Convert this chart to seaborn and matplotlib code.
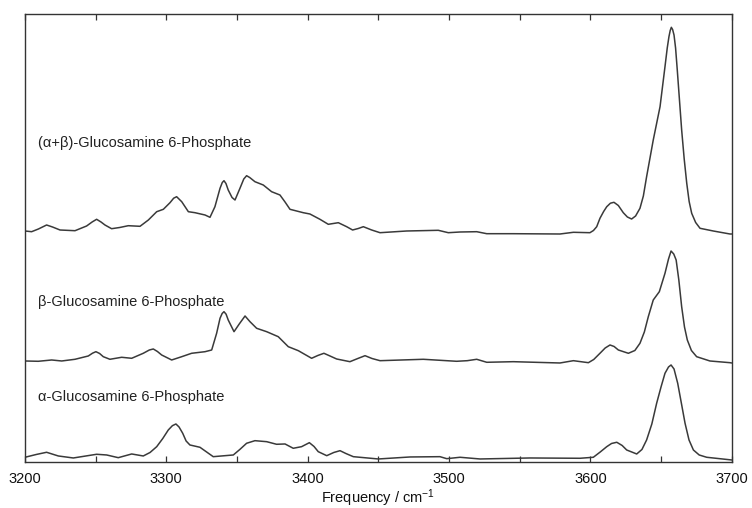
import numpy as np
import pandas as pd
import matplotlib
matplotlib.use("Agg")
import matplotlib.pyplot as plt
from matplotlib.ticker import MultipleLocator
import seaborn as sns

# ---------------- data ----------------
labels = ["(α+β)-Glucosamine 6-Phosphate",
          "β-Glucosamine 6-Phosphate",
          "α-Glucosamine 6-Phosphate"]

# (α+β) trace: frequency (cm-1) and displayed intensity (arb. units, stacked)
ab_freq = [3200, 3204.7, 3209.5, 3215.3, 3219.5, 3224.8, 3235.4, 3243.6, 3247.5,
           3250.7, 3253.8, 3256.6, 3261.3, 3267.0, 3273.1, 3281.4, 3287.3, 3293.2,
           3297.9, 3302.6, 3305.2, 3307.3, 3310.9, 3315.6, 3320.3, 3327.4, 3330.9,
           3334.4, 3338.0, 3339.6, 3340.8, 3342.2, 3343.8, 3346.5, 3348.6, 3352.1,
           3354.8, 3356.8, 3359.0, 3362.7, 3368.6, 3374.5, 3380.4, 3384.0, 3387.5,
           3396.9, 3401.6, 3408.7, 3414.6, 3421.7, 3427.6, 3431.8, 3435.8, 3439.4,
           3445.3, 3451.2, 3470.0, 3492.4, 3499.5, 3507.8, 3519.6, 3526.7, 3545.5,
           3578.5, 3588.0, 3599.7, 3602.2, 3604.5, 3606.8, 3609.4, 3611.6, 3614.2,
           3616.7, 3619.8, 3623.3, 3626.2, 3629.2, 3632.0, 3635.1, 3637.5, 3639.8,
           3644.5, 3649.3, 3652.8, 3654.4, 3655.6, 3656.5, 3657.3, 3658.2, 3659.2,
           3660.3, 3661.5, 3664.6, 3666.4, 3668.2, 3669.9, 3671.7, 3674.5, 3677.6,
           3687.0, 3698.8, 3700]
ab_int = [231.0, 230.3, 233.0, 237.0, 235.0, 232.0, 231.3, 236.0, 240.0,
          242.7, 240.0, 237.0, 233.3, 234.5, 236.3, 235.7, 242.0, 250.3,
          252.7, 259.3, 263.8, 265.3, 260.3, 250.3, 249.3, 247.0, 244.7,
          255.3, 273.7, 279.5, 281.3, 278.5, 272.0, 264.5, 262.0, 273.7,
          283.0, 286.3, 284.5, 280.3, 277.0, 270.3, 267.0, 260.0, 252.7,
          249.3, 248.0, 242.7, 237.7, 239.3, 235.3, 232.0, 233.5, 235.3,
          232.0, 229.3, 231.0, 231.7, 229.3, 230.0, 230.3, 228.3, 228.3,
          228.0, 229.7, 229.3, 231.5, 235.3, 243.7, 250.5, 255.3, 258.8,
          259.7, 256.5, 249.3, 245.0, 243.0, 246.0, 253.7, 266.0, 285.3,
          322.0, 355.3, 395.3, 414.0, 425.3, 431.5, 434.7, 432.5, 427.0,
          414.0, 392.0, 332.0, 303.0, 278.7, 260.5, 248.7, 239.5, 233.7,
          231.0, 228.0, 228.0]

# β trace
b_freq = [3200, 3209.4, 3218.9, 3226.0, 3235.4, 3244.8, 3247.8, 3250.2, 3252.8,
          3255.4, 3260.1, 3268.4, 3275.5, 3283.7, 3288.0, 3290.8, 3293.7, 3296.7,
          3303.8, 3310.9, 3317.9, 3327.4, 3332.1, 3335.6, 3338.0, 3339.5, 3340.8,
          3342.3, 3343.8, 3347.9, 3351.6, 3355.7, 3359.2, 3363.9, 3371.0, 3379.2,
          3386.3, 3393.4, 3402.8, 3407.2, 3411.5, 3415.8, 3420.5, 3429.9, 3435.5,
          3440.6, 3445.5, 3451.2, 3481.8, 3505.4, 3512.9, 3519.6, 3526.7, 3545.5,
          3578.5, 3588.0, 3598.6, 3602.4, 3606.8, 3610.5, 3613.9, 3616.8, 3619.8,
          3626.9, 3631.5, 3635.1, 3638.2, 3641.0, 3644.5, 3648.8, 3652.8, 3655.3,
          3657.1, 3659.0, 3660.7, 3662.6, 3664.6, 3666.6, 3668.6, 3671.5, 3675.2,
          3684.6, 3698.8, 3700]
b_int = [101.0, 100.7, 102.0, 101.0, 102.7, 106.0, 108.8, 110.3, 108.5,
         105.3, 102.7, 104.7, 103.7, 108.7, 112.0, 113.0, 110.5, 107.0,
         102.0, 105.3, 108.7, 110.3, 112.0, 128.7, 143.7, 148.5, 150.3,
         147.8, 142.0, 130.3, 138.0, 146.0, 140.3, 133.7, 130.3, 125.3,
         115.3, 111.3, 103.7, 106.5, 108.7, 106.0, 103.0, 100.3, 103.5,
         106.3, 103.5, 101.3, 102.7, 100.7, 101.3, 102.7, 99.7, 100.3,
         99.0, 101.3, 99.3, 102.5, 108.7, 114.0, 117.0, 115.5, 112.0,
         108.7, 111.5, 118.7, 130.0, 145.3, 162.0, 170.3, 188.7, 203.0,
         211.0, 208.0, 202.0, 182.0, 155.3, 135.0, 122.0, 111.5, 105.3,
         101.0, 99.3, 99.0]

# α trace
a_freq = [3200, 3208.0, 3215.3, 3223.6, 3234.2, 3250.7, 3257.8, 3266.0, 3275.5,
          3283.7, 3288.5, 3293.2, 3297.5, 3301.4, 3304.3, 3306.8, 3309.0, 3311.6,
          3314.0, 3316.7, 3323.8, 3333.2, 3347.4, 3352.0, 3356.8, 3362.7, 3371.0,
          3378.0, 3384.0, 3389.8, 3395.7, 3401.2, 3404.5, 3407.5, 3413.5, 3418.5,
          3422.9, 3427.0, 3432.3, 3450.0, 3472.4, 3493.6, 3498.4, 3507.8, 3522.0,
          3557.3, 3592.7, 3602.1, 3607.0, 3611.6, 3615.0, 3618.7, 3622.5, 3625.7,
          3632.8, 3636.5, 3639.8, 3643.5, 3646.9, 3650.0, 3652.8, 3655.3, 3657.1,
          3659.2, 3661.8, 3664.5, 3667.0, 3669.8, 3672.9, 3677.0, 3682.3, 3700]
a_int = [4.7, 7.5, 9.7, 6.0, 4.0, 7.7, 7.0, 4.3, 8.0,
         6.0, 9.5, 15.3, 23.5, 32.0, 36.3, 38.0, 35.0, 28.7,
         21.0, 17.0, 14.7, 5.3, 7.0, 12.5, 18.7, 21.3, 20.3,
         17.7, 18.0, 13.7, 15.3, 19.3, 15.5, 10.3, 6.3, 9.5,
         11.3, 8.5, 5.3, 3.0, 5.0, 5.3, 3.3, 4.7, 3.0,
         4.0, 3.7, 4.7, 10.0, 15.3, 18.5, 19.7, 16.5, 12.0,
         8.0, 12.5, 22.0, 38.0, 58.7, 75.0, 88.7, 95.0, 97.0,
         93.0, 78.7, 58.0, 38.7, 22.0, 12.0, 7.0, 4.7, 2.0]

x_ticks = [3200, 3300, 3400, 3500, 3600, 3700]
x_label = "Frequency / cm$^{\\mathregular{-1}}$"

# ---------------- plot ----------------
sns.set_theme(style="white")
plt.rcParams["font.family"] = ["Liberation Sans", "DejaVu Sans"]
plt.rcParams["mathtext.fontset"] = "custom"
plt.rcParams["mathtext.rm"] = "Liberation Sans"
plt.rcParams["mathtext.it"] = "Liberation Sans"

fig = plt.figure(figsize=(7.52, 5.08), dpi=100)
ax = fig.add_axes([0.0332, 0.0906, 0.9398, 0.8818])

line_color = "#3a3a3a"
for fr, it in [(ab_freq, ab_int), (b_freq, b_int), (a_freq, a_int)]:
    df = pd.DataFrame({"freq": fr, "intensity": it})
    sns.lineplot(data=df, x="freq", y="intensity", sort=False,
                 color=line_color, linewidth=1.1, ax=ax)

ax.set_xlim(3200, 3700)
ax.set_ylim(0, 448)

label_y = [319, 160, 65]
for lab, ly in zip(labels, label_y):
    ax.text(3209, ly, lab, fontsize=10.5, color="#222222",
            ha="left", va="center")

ax.set_xticks(x_ticks)
ax.xaxis.set_minor_locator(MultipleLocator(50))
ax.tick_params(axis="x", which="both", direction="in", top=True, bottom=True,
               length=4, width=0.9, color="#333333", labelsize=10.5,
               pad=7, labelcolor="#111111")
ax.tick_params(axis="y", left=False, right=False, labelleft=False)
ax.set_yticks([])
ax.set_ylabel("")
ax.set_xlabel(x_label, fontsize=10.5, color="#111111", labelpad=1)

for sp in ax.spines.values():
    sp.set_visible(True)
    sp.set_color("#333333")
    sp.set_linewidth(1.0)

fig.savefig("out.png", dpi=100)
